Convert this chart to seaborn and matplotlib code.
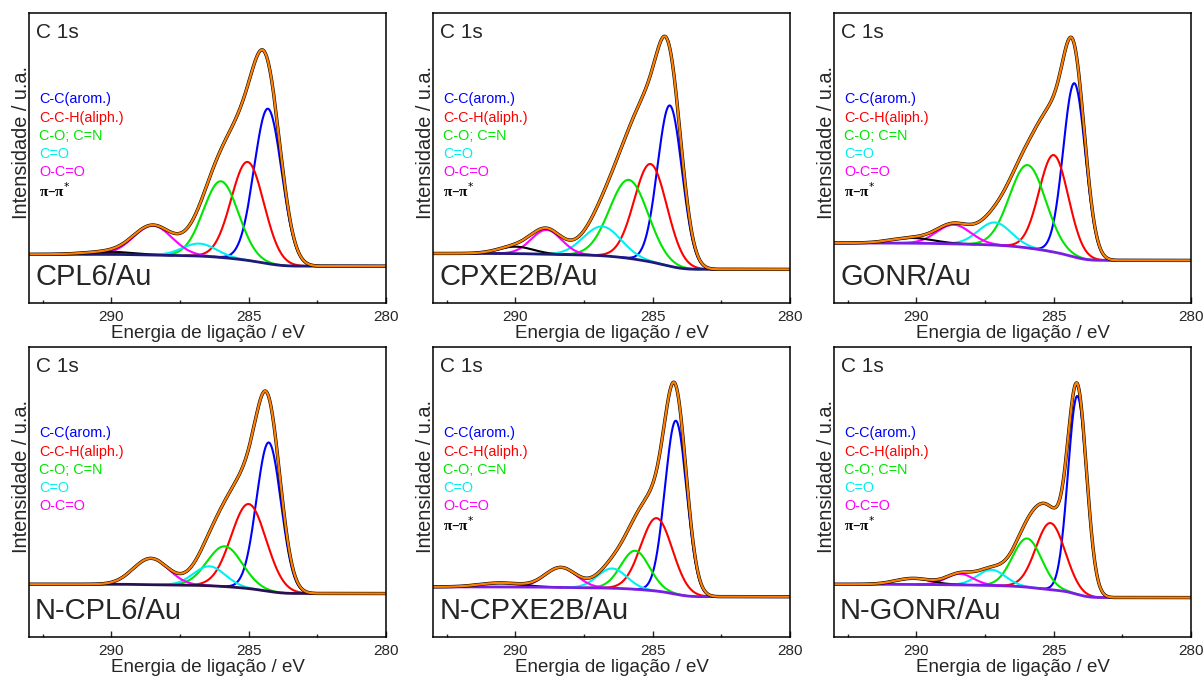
import matplotlib
matplotlib.use("Agg")
import matplotlib.pyplot as plt
from matplotlib.ticker import MultipleLocator
import numpy as np
import seaborn as sns

# Sample names (row by row)
samples = ["CPL6/Au", "CPXE2B/Au", "GONR/Au", "N-CPL6/Au", "N-CPXE2B/Au", "N-GONR/Au"]
show_pipi = [True, True, True, False, True, True]

# Shirley background levels (% of panel height): high BE side / low BE side
bg_high = [16.8, 17.1, 20.7, 18.2, 17.3, 18.2]
bg_low = [12.7, 11.6, 14.7, 15.0, 13.9, 13.6]

# Fitted components: centre (eV), height above background (%), FWHM (eV)
cc_pos = [284.30, 284.38, 284.25, 284.27, 284.16, 284.14]
cc_h = [53.5, 55.5, 60.0, 51.4, 59.9, 68.5]
cc_w = [1.18, 1.05, 0.95, 1.05, 0.93, 0.80]

cch_pos = [285.04, 285.08, 285.00, 285.00, 284.86, 285.12]
cch_h = [34.0, 33.8, 33.5, 29.2, 25.2, 23.0]
cch_w = [1.40, 1.40, 1.25, 1.50, 1.35, 1.25]

co_pos = [286.01, 285.87, 285.95, 285.87, 285.64, 285.97]
co_h = [26.3, 27.1, 28.6, 13.9, 13.3, 16.8]
co_w = [1.50, 1.65, 1.55, 1.50, 1.22, 1.25]

cdo_pos = [286.80, 286.84, 287.15, 286.43, 286.48, 287.27]
cdo_h = [4.3, 10.1, 7.8, 6.7, 6.8, 5.4]
cdo_w = [1.45, 1.60, 1.40, 1.35, 1.25, 1.20]

oco_pos = [288.49, 288.87, 288.64, 288.56, 288.35, 288.42]
oco_h = [10.1, 8.4, 6.6, 9.1, 6.9, 3.8]
oco_w = [1.65, 1.30, 1.45, 1.50, 1.35, 1.15]

pi_pos = [290.10, 290.00, 290.16, 290.50, 290.54, 290.12]
pi_h = [0.9, 2.4, 1.8, 0.0, 1.4, 2.1]
pi_w = [2.00, 1.50, 1.80, 1.80, 1.80, 1.50]

comp_labels = ["C-C(arom.)", "C-C-H(aliph.)", "C-O; C=N", "C=O", "O-C=O"]
comp_colors = ["#0000ff", "#ff0000", "#00e600", "#00f0f0", "#ff00ff", "#000000"]
bg_colors = ["#1e1a78", "#1e1a78", "#7a1ee6", "#2a1050", "#7a1ee6", "#7a1ee6"]

sns.set_style("white")
plt.rcParams["font.family"] = ["Liberation Sans", "DejaVu Sans"]

energy = np.linspace(280, 293, 700)


def gauss(e, pos, h, w):
    s = w / 2.3548
    return h * np.exp(-(e - pos) ** 2 / (2 * s * s))


fig = plt.figure(figsize=(12.03, 6.79), dpi=100)
lefts = [0.0241, 0.36, 0.6933]
bottoms = [0.5538, 0.0619]
width, height = 0.2968, 0.4265

for i, name in enumerate(samples):
    r, c = divmod(i, 3)
    ax = fig.add_axes([lefts[c], bottoms[r], width, height])

    params = [
        (cc_pos[i], cc_h[i], cc_w[i]),
        (cch_pos[i], cch_h[i], cch_w[i]),
        (co_pos[i], co_h[i], co_w[i]),
        (cdo_pos[i], cdo_h[i], cdo_w[i]),
        (oco_pos[i], oco_h[i], oco_w[i]),
        (pi_pos[i], pi_h[i], pi_w[i]),
    ]
    peaks = [gauss(energy, *p) for p in params]
    total = np.sum(peaks, axis=0)
    cum = np.cumsum(total)
    cum = cum / cum[-1]
    bg = bg_low[i] + (bg_high[i] - bg_low[i]) * cum
    env = bg + total

    for k, g in enumerate(peaks):
        if params[k][1] <= 0:
            continue
        mask = g > 0.02
        sns.lineplot(x=energy[mask], y=(bg + g)[mask], ax=ax, color=comp_colors[k],
                     lw=1.5, sort=False)
    sns.lineplot(x=energy, y=bg, ax=ax, color=bg_colors[i], lw=2.0, sort=False)
    sns.lineplot(x=energy, y=env, ax=ax, color="black", lw=2.4, sort=False)
    sns.lineplot(x=energy, y=env, ax=ax, color="#ff8000", lw=1.6, sort=False)

    ax.set_xlim(293, 280)
    ax.set_ylim(0, 100)
    ax.set_yticks([])
    ax.xaxis.set_major_locator(MultipleLocator(5))
    ax.xaxis.set_minor_locator(MultipleLocator(2.5))
    ax.tick_params(axis="x", which="major", direction="in", length=4, width=1,
                   labelsize=11, pad=5, bottom=True)
    ax.tick_params(axis="x", which="minor", direction="in", length=2.5, width=1,
                   bottom=True)
    for sp in ax.spines.values():
        sp.set_color("black")
        sp.set_linewidth(1.1)

    ax.set_xlabel("Energia de ligação / eV", fontsize=13.5, labelpad=1)
    ax.set_ylabel("Intensidade / u.a.", fontsize=14.3)
    ax.yaxis.set_label_coords(0.006, 0.553)

    ax.text(0.02, 0.935, "C 1s", transform=ax.transAxes, fontsize=15,
            va="center", ha="left")
    ax.text(0.017, 0.088, name, transform=ax.transAxes, fontsize=21,
            va="center", ha="left")

    y0 = 0.703
    step = 0.063
    for k, lab in enumerate(comp_labels):
        ax.text(0.028, y0 - k * step, lab, transform=ax.transAxes, fontsize=10.4,
                color=comp_colors[k], va="center", ha="left")
    if show_pipi[i]:
        ax.text(0.028, y0 - 5 * step, "π–π$^{*}$", transform=ax.transAxes,
                fontsize=11, fontweight="bold", color="black",
                family=["Liberation Serif", "DejaVu Serif"],
                va="center", ha="left")

fig.savefig("out.png", dpi=100)
